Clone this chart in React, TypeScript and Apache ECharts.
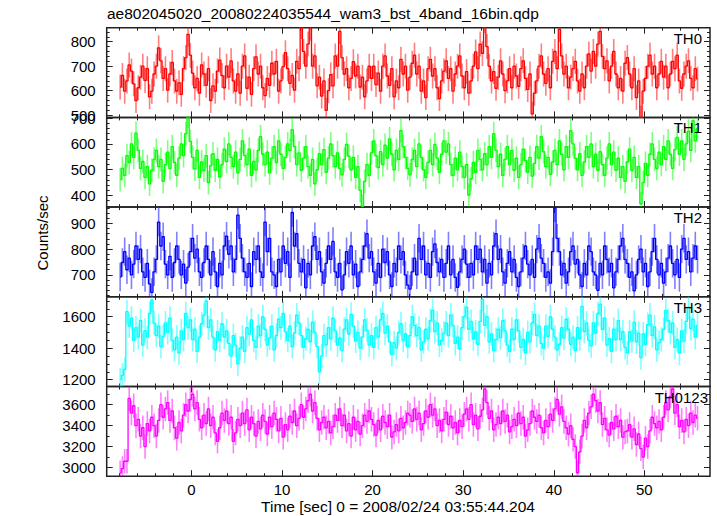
import React, { useEffect, useRef } from "react";
import * as echarts from "echarts";

const TITLE = "ae802045020_20080224035544_wam3_bst_4band_16bin.qdp";
const X_TITLE = "Time [sec] 0 = 2008/02/24 03:55:44.204";
const Y_TITLE = "Counts/sec";
const BAND_NAMES = ["TH0", "TH1", "TH2", "TH3", "TH0123"];
const T_START = -8;
const BIN = 0.25;

const TH0 = [
  615, 662, 598, 640, 705, 680, 628, 560, 612, 655, 700, 642, 690, 575, 598, 668,
  700, 775, 722, 650, 690, 602, 668, 715, 640, 598, 632, 585, 690, 735, 830, 745,
  672, 612, 650, 590, 705, 668, 622, 690, 560, 620, 598, 680, 725, 662, 612, 700,
  655, 722, 640, 598, 668, 590, 700, 742, 610, 655, 585, 690, 738, 668, 700, 612,
  580, 650, 622, 712, 668, 720, 598, 640, 698, 755, 690, 630, 662, 602, 720, 690,
  862, 760, 700, 790, 855, 700, 742, 620, 655, 578, 640, 520, 600, 665, 620, 742,
  700, 842, 735, 668, 690, 612, 650, 718, 660, 700, 615, 655, 575, 640, 700, 650,
  700, 625, 672, 598, 700, 742, 660, 622, 690, 575, 640, 612, 728, 668, 700, 602,
  655, 712, 745, 668, 700, 598, 640, 572, 690, 728, 660, 690, 612, 568, 640, 680,
  722, 650, 690, 598, 668, 700, 742, 660, 612, 678, 590, 640, 700, 758, 690, 790,
  752, 885, 780, 700, 640, 678, 610, 655, 722, 668, 600, 640, 690, 612, 700, 660,
  618, 690, 722, 650, 605, 668, 505, 590, 640, 700, 742, 668, 630, 690, 612, 720,
  760, 690, 850, 742, 668, 700, 612, 655, 690, 720, 640, 598, 668, 612, 700, 750,
  680, 760, 700, 790, 842, 740, 690, 722, 640, 700, 760, 668, 612, 650, 598, 712,
  735, 668, 612, 690, 572, 640, 488, 598, 650, 700, 745, 668, 700, 612, 668, 720,
  655, 700, 612, 668, 720, 690, 745, 640, 610, 668, 700, 722, 650, 612, 690, 648,
];

const TH1 = [
  462, 505, 478, 555, 528, 600, 548, 642, 575, 505, 532, 470, 512, 445, 498, 540,
  575, 512, 540, 455, 520, 568, 505, 590, 528, 478, 545, 600, 555, 640, 708, 610,
  548, 502, 575, 470, 530, 498, 555, 450, 515, 562, 498, 540, 472, 520, 580, 532,
  600, 548, 512, 568, 488, 540, 612, 555, 520, 580, 478, 532, 500, 575, 628, 560,
  520, 568, 488, 545, 590, 528, 612, 560, 505, 548, 600, 575, 655, 590, 520, 565,
  498, 545, 590, 512, 478, 540, 445, 500, 562, 520, 578, 490, 545, 600, 555, 512,
  565, 505, 480, 540, 598, 552, 500, 548, 470, 512, 420, 358, 455, 520, 478, 565,
  612, 555, 508, 570, 520, 595, 545, 620, 560, 500, 575, 540, 652, 590, 548, 505,
  480, 540, 575, 512, 600, 548, 500, 470, 528, 575, 520, 598, 545, 490, 560, 612,
  568, 600, 520, 478, 545, 500, 568, 512, 470, 520, 402, 465, 528, 490, 575, 540,
  500, 562, 520, 590, 548, 640, 575, 512, 560, 478, 540, 590, 520, 575, 498, 545,
  470, 520, 580, 535, 490, 548, 475, 525, 590, 545, 628, 570, 512, 548, 482, 530,
  575, 520, 612, 560, 500, 590, 548, 652, 600, 545, 500, 562, 478, 530, 590, 548,
  600, 512, 560, 498, 570, 520, 478, 545, 600, 520, 568, 498, 545, 470, 512, 455,
  530, 580, 498, 548, 470, 512, 368, 450, 525, 478, 560, 600, 540, 505, 568, 520,
  590, 540, 612, 560, 505, 578, 625, 560, 612, 540, 600, 650, 575, 690, 612, 660,
];

const TH2 = [
  692, 748, 790, 720, 765, 700, 742, 812, 760, 800, 712, 690, 745, 665, 632, 712,
  760, 905, 812, 848, 742, 700, 772, 690, 748, 812, 760, 700, 742, 668, 730, 790,
  842, 765, 800, 712, 690, 748, 812, 760, 700, 790, 712, 655, 745, 700, 812, 850,
  780, 812, 712, 760, 932, 842, 765, 712, 690, 745, 655, 790, 760, 812, 712, 690,
  905, 790, 842, 712, 700, 655, 760, 712, 812, 745, 790, 690, 942, 812, 860, 745,
  712, 760, 650, 745, 700, 812, 848, 760, 790, 712, 668, 745, 812, 760, 830, 712,
  690, 745, 642, 700, 790, 745, 812, 700, 742, 655, 712, 760, 812, 860, 765, 790,
  712, 668, 745, 690, 800, 748, 790, 700, 655, 745, 712, 812, 760, 790, 700, 660,
  645, 712, 765, 700, 842, 760, 812, 700, 745, 690, 790, 820, 748, 712, 760, 690,
  745, 812, 700, 760, 690, 652, 712, 760, 800, 742, 690, 745, 700, 812, 760, 800,
  712, 760, 668, 745, 700, 812, 860, 760, 800, 712, 668, 745, 790, 712, 760, 690,
  655, 712, 765, 812, 742, 700, 760, 690, 800, 842, 765, 745, 690, 712, 668, 790,
  960, 842, 790, 700, 745, 668, 712, 790, 812, 742, 760, 700, 655, 745, 700, 812,
  790, 712, 700, 640, 745, 700, 812, 760, 712, 745, 650, 712, 760, 812, 842, 760,
  745, 690, 712, 638, 700, 760, 800, 712, 745, 655, 712, 790, 842, 760, 700, 745,
  668, 712, 765, 812, 745, 700, 760, 690, 800, 842, 760, 790, 712, 765, 812, 760,
];

const TH3 = [
  1200, 1228, 1265, 1632, 1540, 1590, 1450, 1530, 1470, 1575, 1420, 1512, 1470, 1620, 1705, 1560,
  1480, 1540, 1410, 1475, 1560, 1500, 1590, 1450, 1390, 1470, 1370, 1510, 1455, 1620, 1530, 1580,
  1455, 1520, 1380, 1470, 1555, 1610, 1700, 1530, 1580, 1470, 1390, 1505, 1450, 1555, 1470, 1510,
  1430, 1350, 1480, 1420, 1300, 1400, 1470, 1380, 1530, 1490, 1580, 1450, 1405, 1540, 1480, 1600,
  1520, 1420, 1465, 1540, 1390, 1480, 1585, 1530, 1620, 1505, 1450, 1540, 1410, 1495, 1610, 1560,
  1480, 1405, 1460, 1520, 1440, 1565, 1500, 1410, 1250, 1350, 1480, 1420, 1530, 1460, 1590, 1510,
  1420, 1465, 1385, 1520, 1580, 1490, 1615, 1540, 1445, 1500, 1400, 1470, 1580, 1515, 1420, 1480,
  1405, 1530, 1470, 1580, 1620, 1495, 1540, 1440, 1360, 1435, 1400, 1500, 1555, 1450, 1490, 1410,
  1480, 1600, 1545, 1480, 1530, 1390, 1440, 1520, 1460, 1575, 1640, 1505, 1560, 1420, 1450, 1495,
  1560, 1480, 1610, 1545, 1430, 1470, 1395, 1530, 1600, 1660, 1520, 1570, 1460, 1505, 1425, 1570,
  1710, 1545, 1600, 1440, 1490, 1385, 1455, 1520, 1465, 1575, 1510, 1420, 1380, 1520, 1455, 1580,
  1510, 1405, 1455, 1370, 1500, 1440, 1560, 1615, 1480, 1540, 1430, 1400, 1540, 1475, 1600, 1520,
  1470, 1390, 1425, 1530, 1465, 1585, 1520, 1425, 1470, 1385, 1530, 1460, 1665, 1505, 1560, 1450,
  1415, 1560, 1495, 1620, 1680, 1520, 1590, 1420, 1460, 1380, 1520, 1455, 1575, 1455, 1505, 1405,
  1370, 1505, 1445, 1565, 1440, 1495, 1340, 1490, 1425, 1550, 1610, 1480, 1535, 1390, 1435, 1455,
  1520, 1640, 1575, 1500, 1560, 1405, 1455, 1370, 1510, 1445, 1570, 1660, 1525, 1585, 1470, 1545,
];

const TH0123 = [
  2950, 2990, 3060, 3060, 3660, 3520, 3590, 3400, 3460, 3300, 3380, 3200, 3420, 3350, 3480, 3400,
  3300, 3450, 3600, 3480, 3560, 3620, 3450, 3540, 3380, 3280, 3430, 3350, 3500, 3600, 3540, 3650,
  3700, 3560, 3620, 3460, 3380, 3500, 3420, 3560, 3400, 3480, 3330, 3250, 3380, 3520, 3450, 3540,
  3420, 3480, 3250, 3330, 3460, 3400, 3520, 3420, 3550, 3360, 3480, 3420, 3300, 3440, 3370, 3500,
  3440, 3320, 3480, 3390, 3520, 3460, 3350, 3470, 3290, 3410, 3360, 3490, 3430, 3540, 3400, 3470,
  3600, 3480, 3560, 3640, 3700, 3540, 3620, 3470, 3360, 3430, 3480, 3380, 3440, 3330, 3390, 3500,
  3450, 3560, 3400, 3500, 3350, 3420, 3300, 3480, 3360, 3440, 3320, 3400, 3500, 3440, 3540, 3460,
  3410, 3310, 3450, 3360, 3490, 3430, 3390, 3500, 3290, 3340, 3410, 3350, 3470, 3380, 3430, 3520,
  3500, 3440, 3560, 3460, 3520, 3360, 3420, 3540, 3480, 3600, 3500, 3560, 3400, 3450, 3350, 3460,
  3530, 3410, 3490, 3380, 3430, 3330, 3450, 3390, 3510, 3560, 3460, 3600, 3410, 3500, 3370, 3490,
  3550, 3750, 3620, 3470, 3540, 3360, 3410, 3480, 3420, 3540, 3440, 3500, 3340, 3390, 3460, 3400,
  3520, 3420, 3480, 3300, 3360, 3420, 3540, 3480, 3440, 3500, 3380, 3330, 3450, 3390, 3510, 3450,
  3560, 3650, 3510, 3580, 3440, 3380, 3320, 3400, 3270, 3200, 2950, 3150, 3300, 3450, 3380, 3520,
  3580, 3700, 3640, 3540, 3620, 3410, 3470, 3360, 3310, 3430, 3370, 3490, 3390, 3450, 3290, 3340,
  3350, 3410, 3290, 3370, 3220, 3320, 3180, 3100, 3280, 3200, 3350, 3480, 3420, 3380, 3440, 3360,
  3480, 3620, 3550, 3680, 3750, 3520, 3600, 3390, 3450, 3340, 3460, 3400, 3520, 3430, 3500, 3470,
];

const BANDS = [TH0, TH1, TH2, TH3, TH0123];
const ERRORS = [51, 46, 55, 76, 117];
const COLORS = ["#ff0000", "#00ff00", "#0000ff", "#00ffff", "#ff00ff"];
const Y_MIN = [491, 355, 615, 1157, 2917];
const Y_MAX = [857, 703, 963, 1726, 3774];
const Y_LABELS = [
  [500, 600, 700, 800],
  [400, 500, 600, 700],
  [700, 800, 900],
  [1200, 1400, 1600],
  [3000, 3200, 3400, 3600],
];
const Y_MINOR_STEP = [20, 20, 20, 50, 100];
const X_MIN = -9.36;
const X_MAX = 57.25;
const X_LABELS = [0, 10, 20, 30, 40, 50];
const X_MINOR_STEP = 2;
const LABEL_X = [702, 702, 702, 702, 708];

const FONT = '"Liberation Sans", Arial, sans-serif';
const GRID_LEFT = 106.7;
const GRID_RIGHT = 7;
const GRID_TOP = 27.7;
const PANEL_H = 89.7;

function stepValues(min: number, max: number, step: number, skip: number[]) {
  const out: number[] = [];
  const start = Math.ceil(min / step) * step;
  for (let v = start; v <= max + 1e-9; v += step) {
    const r = Math.round(v * 1000) / 1000;
    if (!skip.includes(r)) out.push(r);
  }
  return out;
}

export default function App() {
  const ref = useRef<HTMLDivElement>(null);
  useEffect(() => {
    if (!ref.current) return;
    const chart = echarts.init(ref.current, undefined, { renderer: "svg" });
    const grid: any[] = [];
    const xAxis: any[] = [];
    const yAxis: any[] = [];
    const series: any[] = [];
    const tickLine = { color: "#222", width: 1 };
    const xMinor = stepValues(X_MIN, X_MAX, X_MINOR_STEP, X_LABELS);
    const plain = (v: number) => String(v);

    BANDS.forEach((vals, g) => {
      grid.push({
        left: GRID_LEFT,
        right: GRID_RIGHT,
        top: GRID_TOP + g * PANEL_H,
        height: PANEL_H,
        show: true,
        borderColor: "#222",
        borderWidth: 1.5,
        backgroundColor: "transparent",
      });
      const xBase = {
        type: "value",
        gridIndex: g,
        min: X_MIN,
        max: X_MAX,
        splitLine: { show: false },
        axisLine: { show: false, onZero: false },
      };
      xAxis.push({
        ...xBase,
        position: "bottom",
        axisTick: { show: true, inside: true, length: 6, customValues: X_LABELS, lineStyle: tickLine },
        axisLabel: {
          show: g === 4,
          customValues: X_LABELS,
          formatter: plain,
          fontFamily: FONT,
          fontSize: 15,
          color: "#000",
          margin: 6,
        },
      });
      xAxis.push({
        ...xBase,
        position: "bottom",
        axisTick: { show: true, inside: true, length: 3, customValues: xMinor, lineStyle: tickLine },
        axisLabel: { show: false },
      });
      xAxis.push({
        ...xBase,
        position: "top",
        axisTick: { show: true, inside: true, length: 6, customValues: X_LABELS, lineStyle: tickLine },
        axisLabel: { show: false },
      });
      xAxis.push({
        ...xBase,
        position: "top",
        axisTick: { show: true, inside: true, length: 3, customValues: xMinor, lineStyle: tickLine },
        axisLabel: { show: false },
      });

      const yMinor = stepValues(Y_MIN[g], Y_MAX[g], Y_MINOR_STEP[g], Y_LABELS[g]);
      const yBase = {
        type: "value",
        gridIndex: g,
        min: Y_MIN[g],
        max: Y_MAX[g],
        splitLine: { show: false },
        axisLine: { show: false, onZero: false },
      };
      yAxis.push({
        ...yBase,
        position: "left",
        axisTick: { show: true, inside: true, length: 6, customValues: Y_LABELS[g], lineStyle: tickLine },
        axisLabel: {
          show: true,
          customValues: Y_LABELS[g],
          formatter: plain,
          fontFamily: FONT,
          fontSize: 15,
          color: "#000",
          margin: 11,
        },
      });
      yAxis.push({
        ...yBase,
        position: "left",
        axisTick: { show: true, inside: true, length: 3, customValues: yMinor, lineStyle: tickLine },
        axisLabel: { show: false },
      });
      yAxis.push({
        ...yBase,
        position: "right",
        axisTick: { show: true, inside: true, length: 6, customValues: Y_LABELS[g], lineStyle: tickLine },
        axisLabel: { show: false },
      });
      yAxis.push({
        ...yBase,
        position: "right",
        axisTick: { show: true, inside: true, length: 3, customValues: yMinor, lineStyle: tickLine },
        axisLabel: { show: false },
      });

      const data = vals.map((v, i) => [T_START + BIN * (i + 0.5), v]);
      const err = ERRORS[g];
      const color = COLORS[g];
      series.push({
        type: "custom",
        xAxisIndex: g * 4,
        yAxisIndex: g * 4,
        clip: true,
        data,
        renderItem: (_p: any, api: any) => {
          const x = api.value(0);
          const y = api.value(1);
          const a = api.coord([x, y - err]);
          const b = api.coord([x, y + err]);
          return {
            type: "line",
            shape: { x1: a[0], y1: a[1], x2: b[0], y2: b[1] },
            style: { stroke: color, lineWidth: 1.6, opacity: 0.5 },
          };
        },
      });
      series.push({
        type: "line",
        xAxisIndex: g * 4,
        yAxisIndex: g * 4,
        data,
        step: "middle",
        showSymbol: false,
        symbol: "none",
        clip: true,
        lineStyle: { color, width: 1.3 },
      });
    });

    const graphic: any[] = [
      {
        type: "text",
        x: 107,
        y: 13,
        style: { text: TITLE, font: `15.5px ${FONT}`, fill: "#000", align: "left", verticalAlign: "middle" },
      },
      {
        type: "text",
        x: 398,
        y: 506,
        style: { text: X_TITLE, font: `15.5px ${FONT}`, fill: "#000", align: "center", verticalAlign: "middle" },
      },
      {
        type: "text",
        x: 42,
        y: 233,
        rotation: Math.PI / 2,
        style: { text: Y_TITLE, font: `15px ${FONT}`, fill: "#000", align: "center", verticalAlign: "middle" },
      },
      ...BAND_NAMES.map((name, g) => ({
        type: "text",
        x: LABEL_X[g],
        y: GRID_TOP + g * PANEL_H + 10.5,
        z: 10,
        style: { text: name, font: `15px ${FONT}`, fill: "#000", align: "right", verticalAlign: "middle" },
      })),
    ];

    chart.setOption({
      animation: false,
      backgroundColor: "#fff",
      grid,
      xAxis,
      yAxis,
      series,
      graphic,
    });
    return () => chart.dispose();
  }, []);
  return <div ref={ref} style={{ width: 717, height: 516, position: "absolute", left: 0, top: 0 }} />;
}
